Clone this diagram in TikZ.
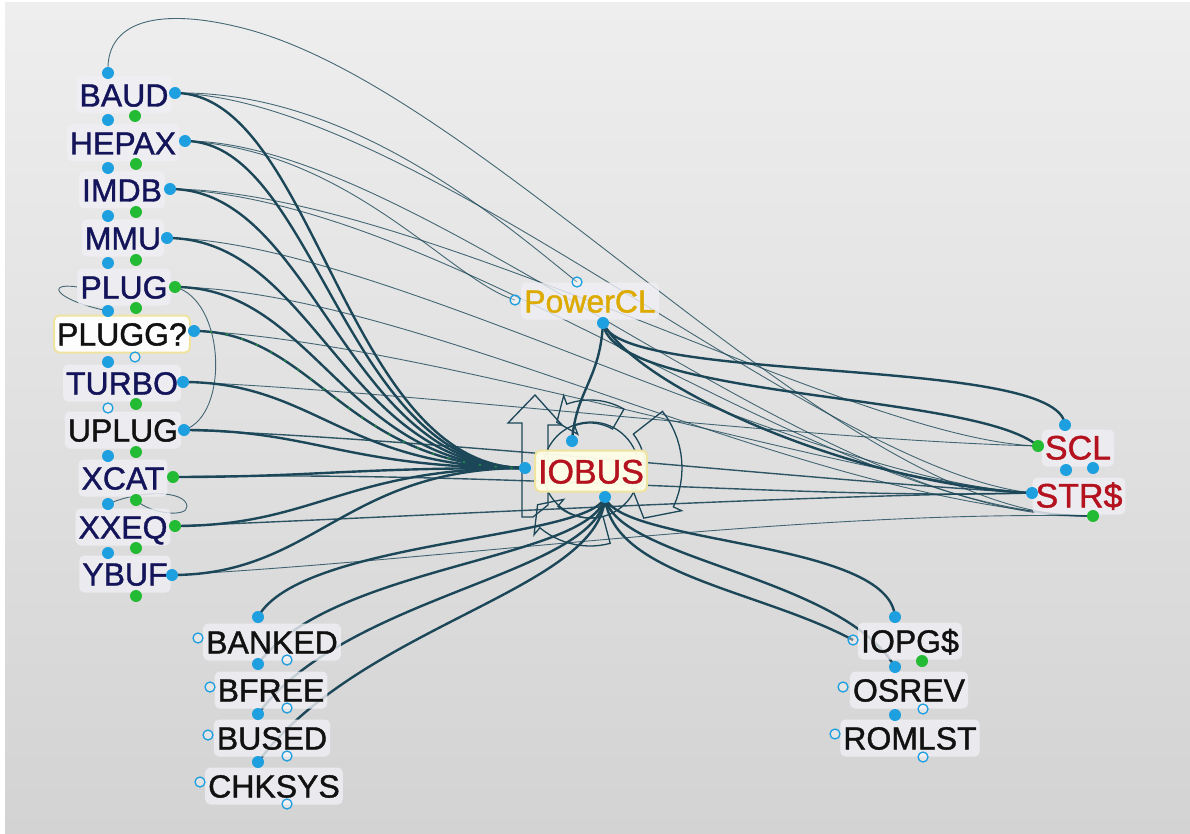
\documentclass[tikz,border=0pt]{standalone}
\usepackage{fontspec}
\setmainfont{Liberation Sans}
\newfontfamily\lblfont{Liberation Sans}[FakeBold=1.2]
\definecolor{bgtop}{HTML}{EEEEEE}
\definecolor{bgmid}{HTML}{CACACA}
\definecolor{bgbot}{HTML}{D3D3D3}
\definecolor{edgec}{HTML}{1B4758}
\definecolor{navy}{HTML}{14145A}
\definecolor{blackt}{HTML}{111111}
\definecolor{redt}{HTML}{B3121E}
\definecolor{goldt}{HTML}{DDAA00}
\definecolor{dotb}{HTML}{1E9FDF}
\definecolor{dotg}{HTML}{22BB33}
\definecolor{boxf}{HTML}{F0F0F5}
\definecolor{ybox}{HTML}{FFFFE8}
\definecolor{ybord}{HTML}{EFE3A0}
\pgfdeclarelayer{bgl}
\pgfdeclarelayer{edgel}
\pgfsetlayers{bgl,edgel,main}
\newcommand{\blockarc}[5]{%
  \begin{scope}[shift={(590,468)}]
  \draw[deco] ({#1}:{#3}) -- plot[domain=#1:#2,samples=14] (\x:{#4}) -- ({#2}:{#4+9}) -- ({#2+#5}:{(#3+#4)/2}) -- ({#2}:{#3-9}) -- plot[domain=#2:#1,samples=14] (\x:{#3}) -- cycle;
  \end{scope}}
\begin{document}
\begin{tikzpicture}[x=1pt,y=-1pt,
  lbl/.style={rounded corners=5pt, fill=boxf, fill opacity=0.8, text opacity=1,
     inner xsep=3pt, inner ysep=7pt, text height=23pt, text depth=0pt,
     font=\lblfont\fontsize{32}{36}\selectfont, text=navy},
  lbly/.style={lbl, fill=white, fill opacity=0.95, draw=ybord, line width=2pt},
  lbliob/.style={lbl, fill=ybox, fill opacity=0.95, draw=ybord, line width=2pt, text=redt, font=\lblfont\fontsize{34}{38}\selectfont, text height=25pt, inner ysep=8pt},
  bdot/.style={circle, fill=dotb, inner sep=0pt, minimum size=12pt},
  gdot/.style={circle, fill=dotg, inner sep=0pt, minimum size=12pt},
  hdot/.style={circle, draw=dotb, line width=1.3pt, fill=white, fill opacity=0.35, inner sep=0pt, minimum size=10pt},
  tk/.style={draw=edgec, line width=2.4pt},
  md/.style={draw=edgec, line width=1.4pt, opacity=0.9},
  tn/.style={draw=edgec, line width=0.9pt, opacity=0.8},
  deco/.style={draw=edgec, line width=1.3pt, line join=miter}
]
\useasboundingbox (0,0) rectangle (1190,834);
\begin{pgfonlayer}{bgl}
\fill[white] (0,0) rectangle (1190,834);
\shade[top color=bgtop, middle color=bgmid, bottom color=bgbot] (5,3) rectangle (1190,834);
\end{pgfonlayer}

% ---------- label nodes
\node[lbl] (baud) at (124,95) {BAUD};
\node[lbl] (hepax) at (123,143) {HEPAX};
\node[lbl] (imdb) at (122,190) {IMDB};
\node[lbl] (mmu) at (123,238) {MMU};
\node[lbl] (plug) at (124,287) {PLUG};
\node[lbly, text=blackt] (plugg) at (122,334) {PLUGG?};
\node[lbl] (turbo) at (122,383) {TURBO};
\node[lbl, text=blackt] (uplug) at (123,430) {UPLUG};
\node[lbl] (xcat) at (123,478) {XCAT};
\node[lbl] (xxeq) at (123,527) {XXEQ};
\node[lbl] (ybuf) at (125,574) {YBUF};
\node[lbl, text=goldt] (pwr) at (590,301) {PowerCL};
\node[lbliob] (iobus) at (591,471) {IOBUS};
\node[lbl, text=redt, font=\lblfont\fontsize{34}{38}\selectfont] (scl) at (1078,448) {SCL};
\node[lbl, text=redt, font=\lblfont\fontsize{34}{38}\selectfont] (strs) at (1079,496) {STR\$};
\node[lbl, text=blackt] (banked) at (272,642) {BANKED};
\node[lbl, text=blackt] (bfree) at (271,690) {BFREE};
\node[lbl, text=blackt] (bused) at (272,738) {BUSED};
\node[lbl, text=blackt] (chksys) at (274,786) {CHKSYS};
\node[lbl, text=blackt] (iopg) at (910,641) {IOPG\$};
\node[lbl, text=blackt] (osrev) at (909,690) {OSREV};
\node[lbl, text=blackt] (romlst) at (910,738) {ROMLST};

% ---------- ports
\node[bdot] (bauT) at (108,73) {};   \node[bdot] (baudR) at (175,93) {};  \node[gdot] (baudB) at (135,116) {};
\node[bdot] (hepT) at (108,120) {};  \node[bdot] (hepR) at (185,141) {};  \node[gdot] (hepB) at (136,164) {};
\node[bdot] (imdT) at (108,168) {};  \node[bdot] (imdR) at (170,189) {};  \node[gdot] (imdB) at (136,212) {};
\node[bdot] (mmuT) at (108,216) {};  \node[bdot] (mmuR) at (167,238) {};  \node[gdot] (mmuB) at (136,260) {};
\node[bdot] (plugT) at (108,263) {}; \node[gdot] (plugR) at (175,287) {}; \node[gdot] (plugB) at (136,308) {};
\node[bdot] (pluggT) at (108,311) {};\node[bdot] (pluggR) at (194,331) {};\node[hdot] (pluggB) at (135,357) {};
\node[bdot] (turboT) at (108,362) {};\node[bdot] (turboR) at (183,382) {};\node[gdot] (turboB) at (136,404) {};
\node[hdot] (uplugT) at (108,408) {};\node[bdot] (uplugR) at (184,430) {};\node[gdot] (uplugB) at (136,452) {};
\node[bdot] (xcatT) at (108,456) {}; \node[gdot] (xcatR) at (173,477) {}; \node[gdot] (xcatB) at (136,500) {};
\node[bdot] (xxeqT) at (108,504) {}; \node[gdot] (xxeqR) at (175,526) {}; \node[gdot] (xxeqB) at (136,548) {};
\node[bdot] (ybufT) at (108,553) {}; \node[bdot] (ybufR) at (172,575) {}; \node[gdot] (ybufB) at (136,596) {};
\node[hdot] (pwrL) at (515,300) {};  \node[hdot] (pwrT) at (577,282) {};  \node[bdot] (pwrB) at (603,323) {};
\node[bdot] (iobL) at (525,468) {};  \node[bdot] (iobT) at (572,441) {};  \node[bdot] (iobB) at (605,497) {};
\node[bdot] (sclT) at (1065,425) {}; \node[gdot] (sclL) at (1038,446) {}; \node[bdot] (sclB) at (1066,470) {}; \node[bdot] (sclB2) at (1093,468) {};
\node[bdot] (strL) at (1032,493) {}; \node[gdot] (strB) at (1093,516) {};
\node[bdot] (bankT) at (258,617) {}; \node[hdot] (bankL) at (198,638) {}; \node[hdot] (bankB) at (287,660) {};
\node[bdot] (bfreeT) at (258,664) {};\node[hdot] (bfreeL) at (210,687) {};\node[hdot] (bfreeB) at (287,708) {};
\node[bdot] (busedT) at (258,714) {};\node[hdot] (busedL) at (208,735) {};\node[hdot] (busedB) at (287,756) {};
\node[bdot] (chkT) at (258,762) {};  \node[hdot] (chkL) at (200,782) {};  \node[hdot] (chkB) at (287,804) {};
\node[bdot] (iopgT) at (895,617) {}; \node[hdot] (iopgL) at (853,640) {}; \node[gdot] (iopgB) at (922,661) {};
\node[bdot] (osrT) at (895,667) {};  \node[hdot] (osrL) at (843,687) {};  \node[hdot] (osrB) at (923,709) {};
\node[bdot] (romT) at (895,715) {};  \node[hdot] (romL) at (835,734) {};  \node[hdot] (romB) at (923,757) {};

% ---------- connectors
\begin{pgfonlayer}{edgel}
% self-loop marks round IOBUS
\draw[deco] (522,517) -- (522,423) -- (508,423) -- (535,395) -- (562,425) -- (548,425) -- (548,505) -- (533,517) -- cycle;
\blockarc{300}{250}{45}{68}{-16}
\blockarc{-38}{25}{55}{92}{18}
\blockarc{75}{130}{50}{78}{15}
\draw[deco] (591,470) circle[radius=48];

% thin long connectors
\draw[tn] (bauT.center) .. controls (105,15) and (170,8) .. (250,30) .. controls (500,100) and (850,525) .. (strB.center);
\draw[tn] (baudR.center) .. controls (350,90) and (500,220) .. (pwrT.center);
\draw[tn] (baudR.center) .. controls (420,100) and (820,470) .. (strL.center);
\draw[tn] (hepR.center) .. controls (420,140) and (820,525) .. (strB.center);
\draw[tn] (hepR.center) .. controls (350,150) and (450,280) .. (pwrL.center);
\draw[tn] (imdR.center) .. controls (420,190) and (850,440) .. (sclL.center);
\draw[tn] (imdR.center) .. controls (460,200) and (820,515) .. (strB.center);
\draw[tn] (mmuR.center) .. controls (380,240) and (800,480) .. (strL.center);
\draw[tn] (plugR.center) .. controls (420,290) and (800,505) .. (strB.center);
\draw[tn] (pluggR.center) .. controls (420,340) and (850,480) .. (strL.center);
\draw[tn] (turboR.center) .. controls (400,390) and (800,440) .. (sclL.center);
\draw[tn] (ybufR.center) .. controls (450,560) and (800,510) .. (strB.center);
\draw[tn] (pluggT.center) .. controls (55,300) and (45,282) .. (plug.west);
\draw[tn] (plugR.center) .. controls (225,300) and (230,415) .. (uplugR.center);
\draw[tn] (xxeqT.center) .. controls (140,490) and (185,490) .. (187,506) .. controls (188,518) and (150,514) .. (xcatB.center);
% medium
\draw[md] (xcatR.center) .. controls (500,470) and (800,500) .. (strL.center);
\draw[md] (uplugR.center) .. controls (450,440) and (800,480) .. (strL.center);
\draw[md] (xxeqR.center) .. controls (450,515) and (800,495) .. (strL.center);
% thick: left column into IOBUS
\foreach \p/\yy in {baudR/93,hepR/141,imdR/189,mmuR/238,plugR/287,pluggR/331,turboR/382,uplugR/430,xcatR/477,xxeqR/526,ybufR/575}
  \draw[tk] (\p.center) .. controls (315,\yy) and (345,468) .. (iobL.center);
\draw[dotg, line width=1.6pt, opacity=0.6, dash pattern=on 2pt off 14pt] (pluggR.center) .. controls (315,331) and (345,468) .. (iobL.center);
% thick: PowerCL
\draw[tk] (pwrB.center) .. controls (600,380) and (576,390) .. (iobT.center);
\draw[tk] (pwrB.center) .. controls (620,385) and (1060,355) .. (sclT.center);
\draw[tk] (pwrB.center) .. controls (612,400) and (975,392) .. (sclL.center);
\draw[tk] (pwrB.center) .. controls (640,390) and (860,485) .. (strL.center);
% thick: IOBUS bottom
\draw[tk] (iobB.center) .. controls (590,540) and (300,540) .. (bankT.center);
\draw[tk] (iobB.center) .. controls (592,560) and (330,565) .. (bfreeT.center);
\draw[tk] (iobB.center) .. controls (596,575) and (345,595) .. (busedT.center);
\draw[tk] (iobB.center) .. controls (600,590) and (360,625) .. (chkT.center);
\draw[tk] (iobB.center) .. controls (620,545) and (890,540) .. (iopgT.center);
\draw[tk] (iobB.center) .. controls (612,575) and (760,590) .. (iopgL.center);
\draw[tk] (iobB.center) .. controls (616,560) and (840,575) .. (osrT.center);
\end{pgfonlayer}
\end{tikzpicture}
\end{document}
